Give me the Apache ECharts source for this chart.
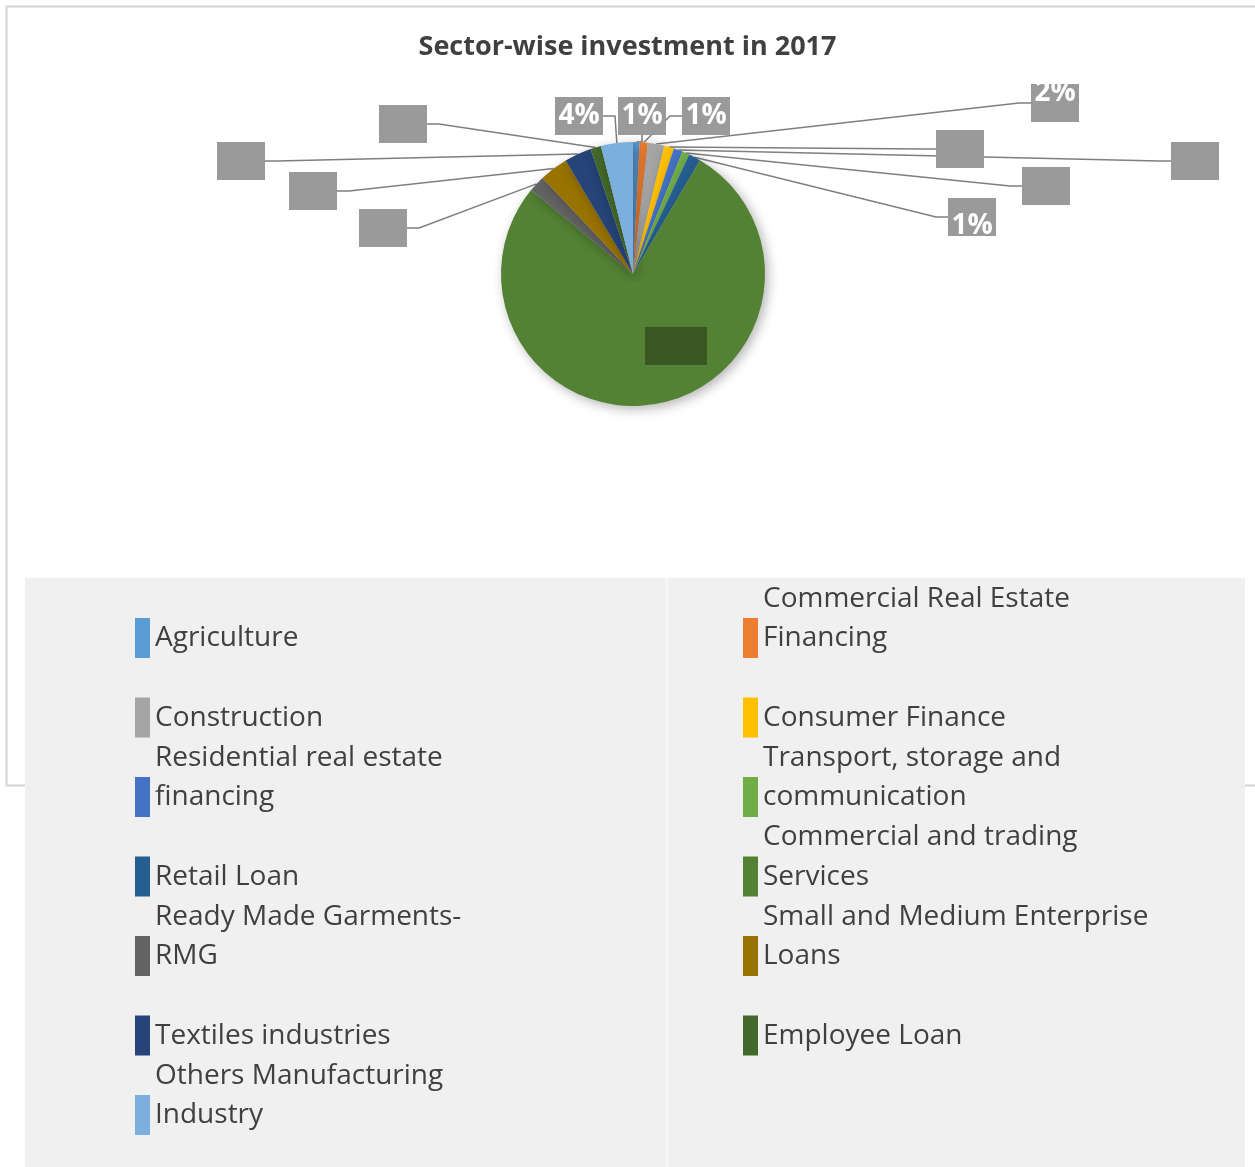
<!DOCTYPE html>
<html>
<head>
<meta charset="utf-8">
<title>Sector-wise investment in 2017</title>
<script src="https://cdn.jsdelivr.net/npm/echarts@6/dist/echarts.min.js"></script>
<style>
html, body { margin: 0; padding: 0; background: #fff; }
#main { width: 1255px; height: 1167px; }
</style>
</head>
<body>
<div id="main"></div>
<script>
var myChart = echarts.init(document.getElementById('main'));

// sectors in Excel order (clockwise from 12 o'clock)
var sectors = ['Agriculture', 'Commercial Real Estate Financing', 'Construction', 'Consumer Finance',
    'Residential real estate financing', 'Transport, storage and communication', 'Retail Loan',
    'Commercial and trading Services', 'Ready Made Garments-RMG', 'Small and Medium Enterprise Loans',
    'Textiles industries', 'Employee Loan', 'Others Manufacturing Industry'];
// share of investment, %
var shares = [0.8, 1.0, 2.0, 1.2, 1.1, 0.9, 1.45, 77.3, 2.0, 3.5, 3.3, 1.3, 3.9];
// legend text as wrapped in the original
var legendText = ['\nAgriculture', 'Commercial Real Estate\nFinancing', '\nConstruction', '\nConsumer Finance',
    'Residential real estate\nfinancing', 'Transport, storage and\ncommunication', '\nRetail Loan',
    'Commercial and trading\nServices', 'Ready Made Garments-\nRMG', 'Small and Medium Enterprise\nLoans',
    '\nTextiles industries', '\nEmployee Loan', 'Others Manufacturing\nIndustry'];

var colors = ['#5b9bd5', '#ed7d31', '#a5a5a5', '#ffc000', '#4472c4', '#70ad47', '#255e91',
    '#548235', '#636363', '#997300', '#264478', '#43682b', '#7cafdd'];

// the data labels were dragged around by hand in Excel
var labelSpots = [[642, 116], [706, 116], [1055, 103], [960, 149], [1195, 161], [1046, 186], [972, 217],
    [676, 346], [383, 228], [313, 191], [241, 161], [403, 124], [579, 116]];
var showPct = [1, 1, 1, 0, 0, 0, 1, 0, 0, 0, 0, 0, 1];
// -1: text sits at the top of its box, 1: at the bottom
var textShift = [0, 0, -1, 0, 0, 0, 1, 0, 0, 0, 0, 0, 0];

var pieData = sectors.map(function (name, i) {
    var item = { name: name, value: shares[i] };
    if (textShift[i] !== 0) {
        item.label = { lineHeight: 19 };
    }
    if (i === 7) {
        item.label = { backgroundColor: '#385723', width: 62 };
        item.labelLine = { show: false };
    }
    return item;
});

var font = '"Open Sans", "Noto Sans", sans-serif';

var option = {
    backgroundColor: '#fff',
    color: colors,
    animation: false,
    title: {
        text: 'Sector-wise investment in 2017',
        left: 'center',
        top: 29,
        textStyle: {
            fontFamily: font,
            fontWeight: 'bold',
            fontSize: 27,
            color: '#404040'
        }
    },
    graphic: [{
        type: 'rect',
        silent: true,
        shape: { x: 6.5, y: 6.5, width: 1260, height: 779 },
        style: { fill: 'none', stroke: '#d4d4d4', lineWidth: 2 }
    }, {
        type: 'rect',
        silent: true,
        shape: { x: 25, y: 578, width: 1220, height: 589 },
        style: { fill: '#f0f0f0' }
    }, {
        type: 'line',
        silent: true,
        shape: { x1: 667, y1: 578, x2: 667, y2: 1167 },
        style: { stroke: '#fafafa', lineWidth: 1.5 }
    }],
    legend: [0, 1].map(function (col) {
        return {
            orient: 'vertical',
            left: col ? 743 : 135,
            top: 579,
            padding: 0,
            itemGap: 0.5,
            itemWidth: 15,
            itemHeight: 79,
            icon: 'path://M0,0M0,39L15,39L15,79L0,79Z',
            selectedMode: false,
            itemStyle: { borderWidth: 0, shadowBlur: 0, shadowOffsetX: 0, shadowOffsetY: 0 },
            data: sectors.filter(function (s, i) { return i % 2 === col; }),
            formatter: function (name) {
                return legendText[sectors.indexOf(name)];
            },
            textStyle: {
                fontFamily: font,
                fontSize: 28,
                lineHeight: 39.5,
                color: '#404040'
            }
        };
    }),
    series: [{
        type: 'pie',
        center: [633, 274],
        radius: 132,
        startAngle: 90,
        clockwise: true,
        avoidLabelOverlap: false,
        itemStyle: {
            borderWidth: 0,
            shadowBlur: 12,
            shadowColor: 'rgba(0,0,0,0.3)',
            shadowOffsetX: 3,
            shadowOffsetY: 3
        },
        label: {
            show: true,
            position: 'outside',
            formatter: function (p) {
                var i = p.dataIndex;
                var txt = showPct[i] ? Math.round(p.percent) + '%' : '\u00a0';
                if (textShift[i] < 0) {
                    return txt + '\n\u00a0';
                }
                if (textShift[i] > 0) {
                    return '\u00a0\n' + txt;
                }
                return txt;
            },
            color: '#fff',
            fontFamily: font,
            fontWeight: 'bold',
            fontSize: 28,
            backgroundColor: '#9a9a9a',
            width: 48,
            lineHeight: 38,
            align: 'center'
        },
        labelLine: {
            show: true,
            length: 10,
            length2: 12,
            lineStyle: { color: '#7f7f7f', width: 1.5 }
        },
        labelLayout: function (p) {
            var s = labelSpots[p.dataIndex];
            return { x: s[0], y: s[1], align: 'center', verticalAlign: 'middle' };
        },
        emphasis: { disabled: true },
        data: pieData
    }]
};

myChart.setOption(option);
</script>
</body>
</html>
